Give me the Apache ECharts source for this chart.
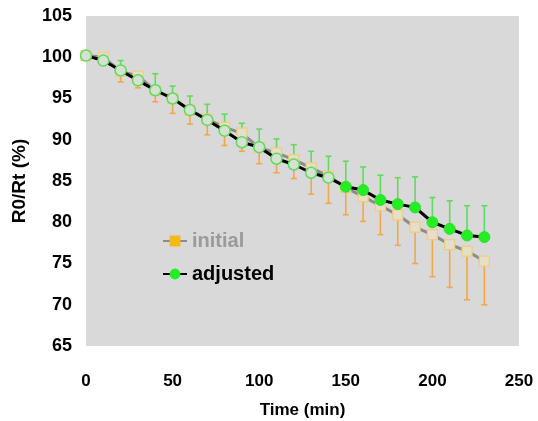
<!DOCTYPE html>
<html><head><meta charset="utf-8">
<script src="https://cdn.jsdelivr.net/npm/echarts@6/dist/echarts.min.js"></script>
<style>html,body{margin:0;padding:0;background:#fff}#c{width:538px;height:421px}</style>
</head><body><div id="c"></div>
<script>
var times = [0,10,20,30,40,50,60,70,80,90,100,110,120,130,140,150,160,170,180,190,200,210,220,230];
var adjusted = [100.2,99.6,98.4,97.2,96.0,95.0,93.6,92.4,91.1,89.7,89.1,87.7,87.0,86.0,85.4,84.3,83.9,82.7,82.2,81.8,80.0,79.2,78.4,78.2];
var initial = [100.2,100.0,98.3,97.7,96.0,95.0,93.6,92.5,91.5,90.8,89.0,88.4,87.6,86.6,85.6,84.2,83.1,82.0,80.9,79.4,78.5,77.3,76.5,75.3];
var adjustedErrPlus = [0,0.3,1.2,0.4,2.0,1.5,1.7,1.9,2.0,2.3,2.2,2.4,2.4,2.6,2.6,3.1,2.8,3.0,3.2,3.7,3.0,3.4,3.6,3.8];
var initialErrMinus = [0,0.3,1.3,1.4,1.4,1.8,1.7,1.9,2.2,2.2,1.9,2.4,2.3,3.2,3.3,3.3,3.0,3.5,3.7,4.4,5.1,5.2,5.9,5.3];
var yTicks = [65,70,75,80,85,90,95,100,105];
var xTicks = [0,50,100,150,200,250];

var FONT = '"Liberation Sans", Arial, sans-serif';
var FILLED_FROM = 150;

function errItem(color) {
  return function (params, api) {
    var x = api.value(0), lo = api.value(1), hi = api.value(2);
    var p1 = api.coord([x, lo]), p2 = api.coord([x, hi]);
    var cap = 3;
    var st = {stroke: color, lineWidth: 1.6};
    return {type: 'group', children: [
      {type: 'line', shape: {x1: p1[0], y1: p1[1], x2: p2[0], y2: p2[1]}, style: st},
      {type: 'line', shape: {x1: p1[0]-cap, y1: p1[1], x2: p1[0]+cap, y2: p1[1]}, style: st},
      {type: 'line', shape: {x1: p2[0]-cap, y1: p2[1], x2: p2[0]+cap, y2: p2[1]}, style: st}
    ]};
  };
}

var adjErrData = times.map(function (t, i) { return [t, adjusted[i], adjusted[i] + adjustedErrPlus[i]]; });
var iniErrData = times.map(function (t, i) { return [t, initial[i] - initialErrMinus[i], initial[i]]; });

var adjData = times.map(function (t, i) {
  var d = {value: [t, adjusted[i]]};
  if (t < FILLED_FROM) d.itemStyle = {color: '#d4e3d1', borderColor: '#62d862', borderWidth: 1.5};
  return d;
});
var iniData = times.map(function (t, i) { return [t, initial[i]]; });

var chart = echarts.init(document.getElementById('c'));
chart.setOption({
  animation: false,
  grid: {left: 86, right: 19, top: 16, height: 330, show: true, backgroundColor: '#d9d9d9', borderWidth: 0,
    containLabel: false, outerBoundsMode: 'none'},
  xAxis: {
    type: 'value', min: 0, max: 250, interval: 50,
    axisLine: {show: false}, axisTick: {show: false}, splitLine: {show: false},
    axisLabel: {color: '#000', fontWeight: 'bold', fontSize: 17, fontFamily: FONT, margin: 27,
      formatter: function (v) { return xTicks.indexOf(v) >= 0 ? String(v) : ''; }},
    name: 'Time (min)', nameLocation: 'middle', nameGap: 56, nameMoveOverlap: false,
    nameTextStyle: {color: '#000', fontWeight: 'bold', fontSize: 17, fontFamily: FONT}
  },
  yAxis: {
    type: 'value', min: 65, max: 105, interval: 5,
    axisLine: {show: false}, axisTick: {show: false}, splitLine: {show: false},
    axisLabel: {color: '#000', fontWeight: 'bold', fontSize: 18, fontFamily: FONT, margin: 14,
      formatter: function (v) { return yTicks.indexOf(v) >= 0 ? String(v) : ''; }},
    name: 'R0/Rt (%)', nameLocation: 'middle', nameGap: 57, nameMoveOverlap: false,
    nameTextStyle: {color: '#000', fontWeight: 'bold', fontSize: 19, fontFamily: FONT}
  },
  legend: {
    orient: 'vertical', left: 157, top: 226, itemGap: 13, itemWidth: 24, itemHeight: 11,
    textStyle: {fontSize: 20, fontWeight: 'bold', fontFamily: FONT},
    data: [
      {name: 'initial', textStyle: {color: '#9a9a9a'}, itemStyle: {color: '#f5b915', borderColor: '#f5b915'}},
      {name: 'adjusted', textStyle: {color: '#000'}, itemStyle: {color: '#22ee22', borderColor: '#22ee22'}}
    ]
  },
  series: [
    {type: 'custom', name: 'iniErr', renderItem: errItem('#f0a848'), data: iniErrData, z: 1,
      encode: {x: 0, y: [1, 2]}, silent: true},
    {type: 'custom', name: 'adjErr', renderItem: errItem('#5edc5e'), data: adjErrData, z: 1,
      encode: {x: 0, y: [1, 2]}, silent: true},
    {type: 'line', name: 'initial', data: iniData, z: 2, symbol: 'rect', symbolSize: 10, showAllSymbol: true,
      lineStyle: {color: '#8c8c8c', width: 3},
      itemStyle: {color: '#e4dfc8', borderColor: '#f2cd7a', borderWidth: 1.2}},
    {type: 'line', name: 'adjusted', data: adjData, z: 3, symbol: 'circle', symbolSize: 11, showAllSymbol: true,
      lineStyle: {color: '#000', width: 3},
      itemStyle: {color: '#22ee22', borderColor: '#33dd33', borderWidth: 1}}
  ]
});
</script>
</body></html>
